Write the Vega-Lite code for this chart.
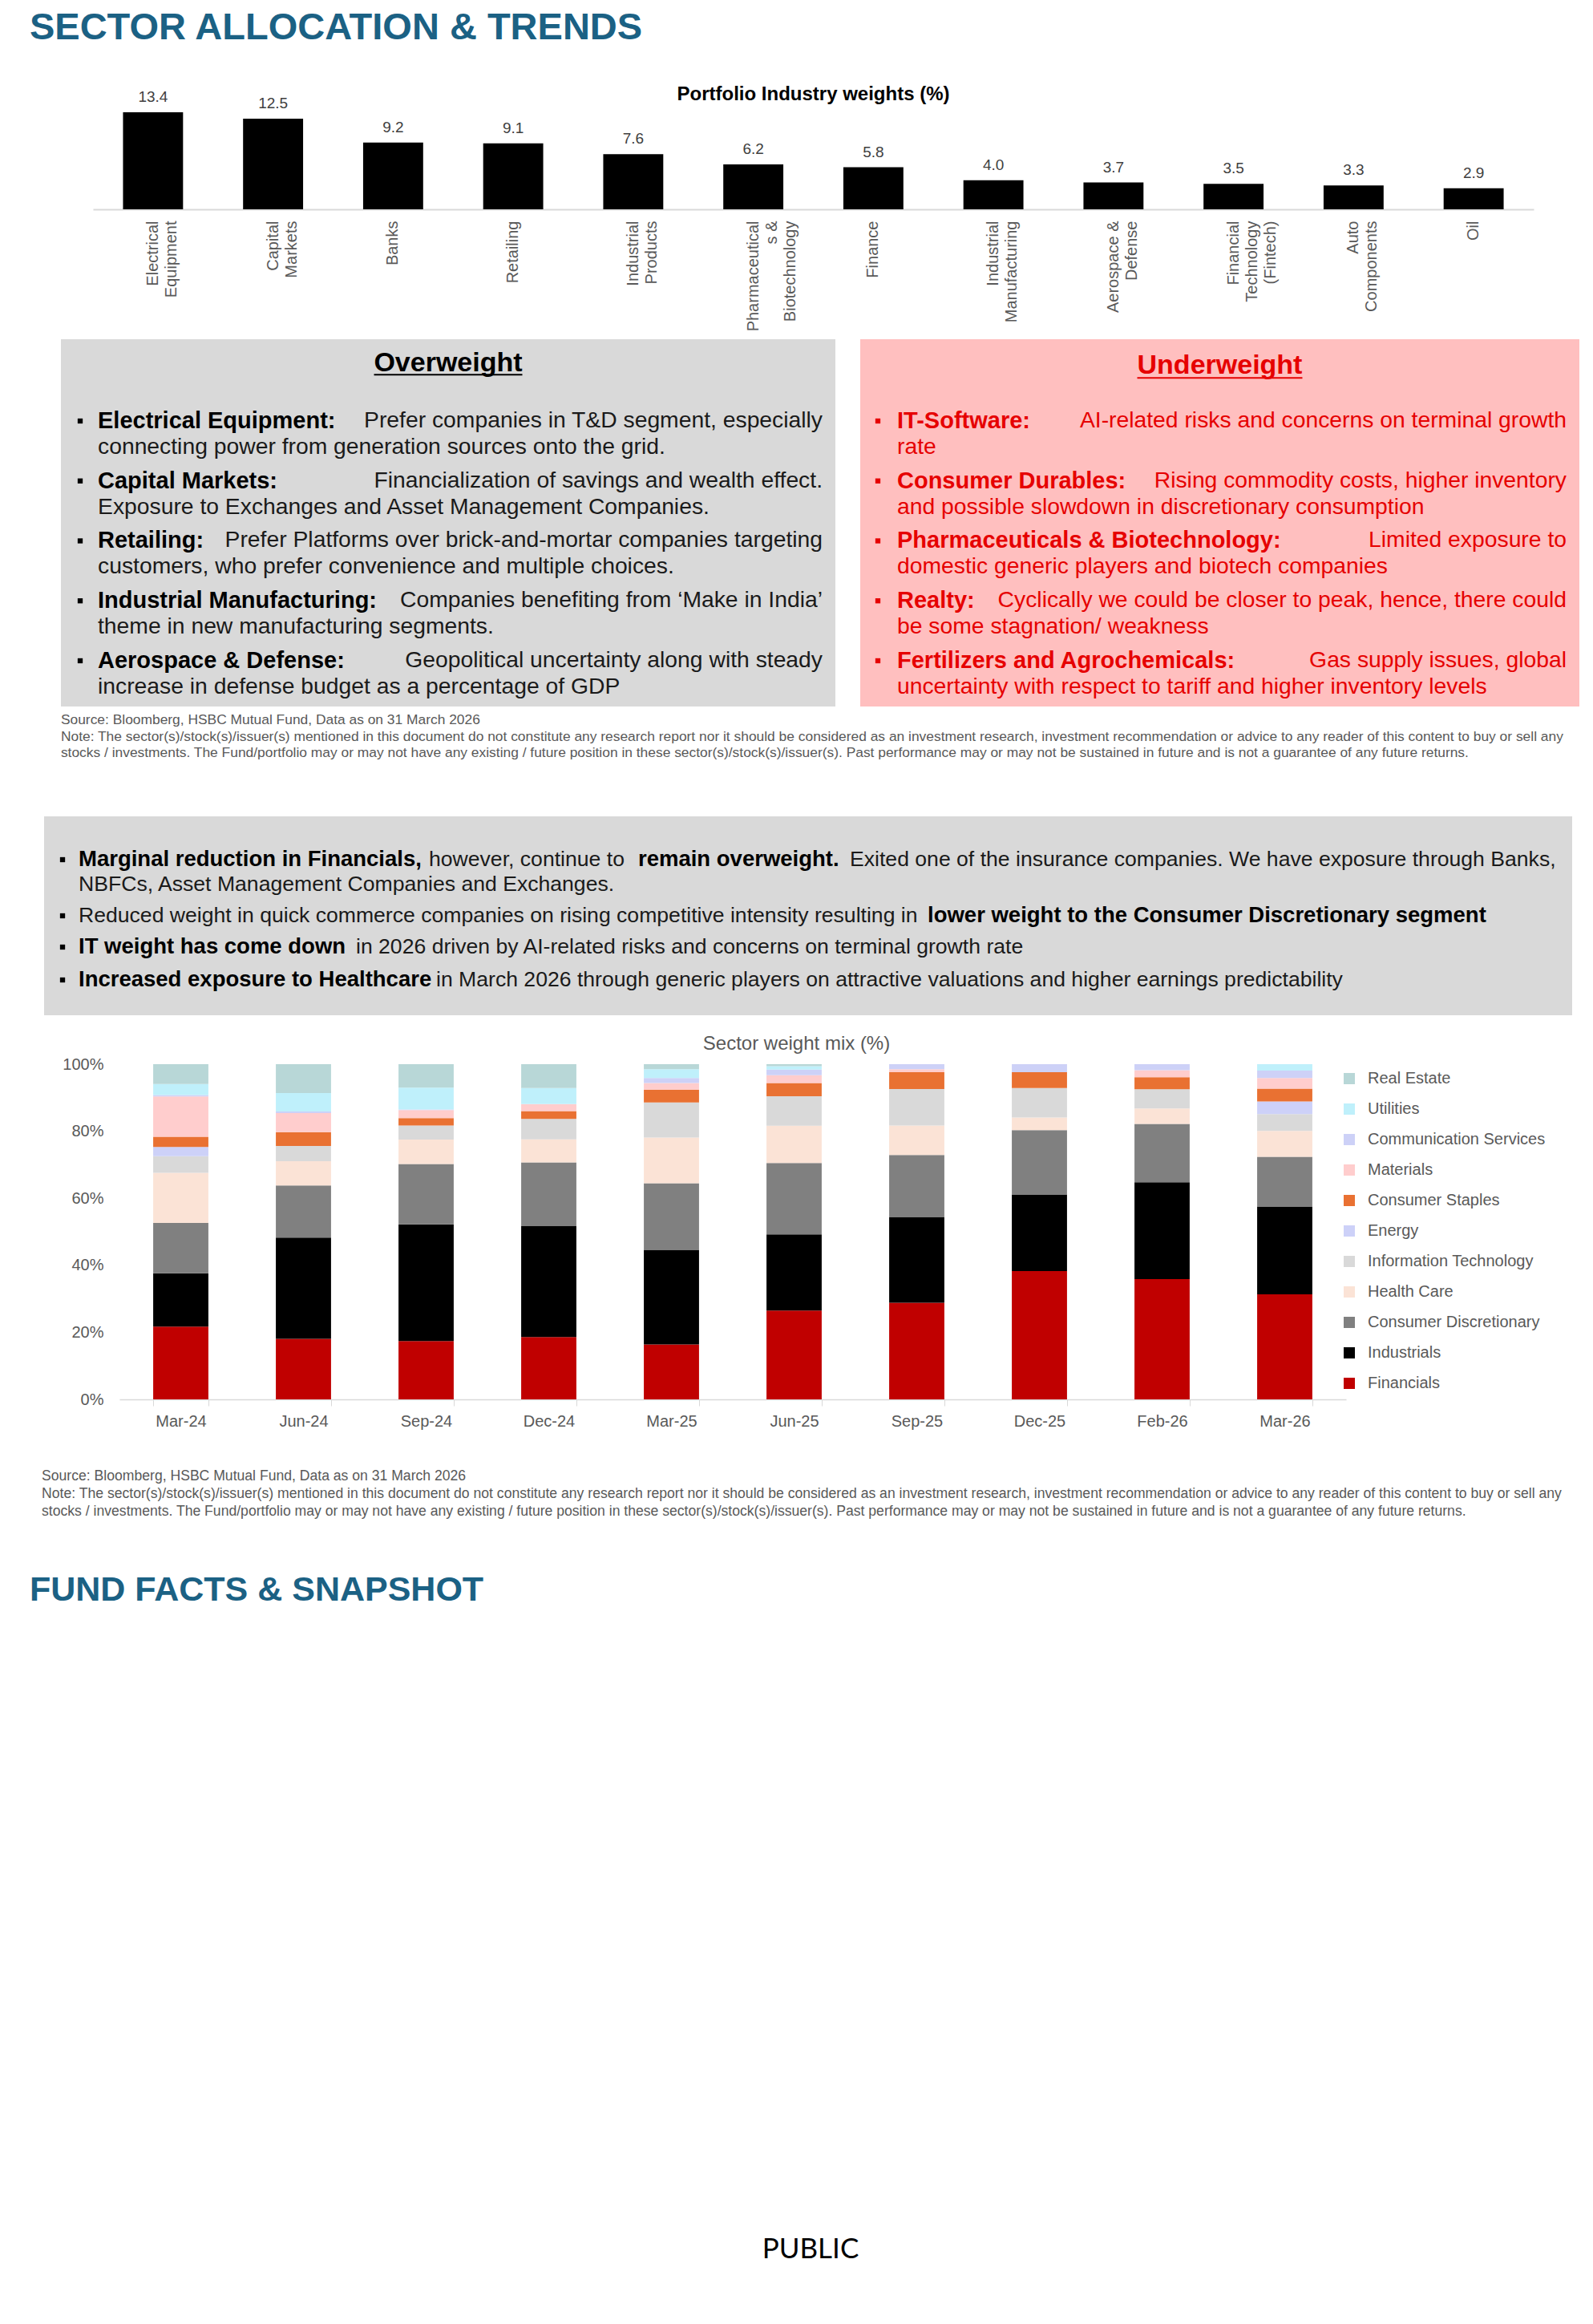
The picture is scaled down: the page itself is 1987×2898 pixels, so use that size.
{
  "$schema": "https://vega.github.io/schema/vega-lite/v6.json",
  "padding": 0,
  "background": "#ffffff",
  "bounds": "flush",
  "spacing": 0,
  "resolve": {"legend": {"color": "independent"}},
  "config": {"view": {"stroke": null}, "font": "Liberation Sans", "concat": {"spacing": 0}},
  "datasets": {
    "industry": [
      {"industry": "Electrical\nEquipment", "weight": 13.4},
      {"industry": "Capital\nMarkets", "weight": 12.5},
      {"industry": "Banks", "weight": 9.2},
      {"industry": "Retailing", "weight": 9.1},
      {"industry": "Industrial\nProducts", "weight": 7.6},
      {"industry": "Pharmaceutical\ns &\nBiotechnology", "weight": 6.2},
      {"industry": "Finance", "weight": 5.8},
      {"industry": "Industrial\nManufacturing", "weight": 4.0},
      {"industry": "Aerospace &\nDefense", "weight": 3.7},
      {"industry": "Financial\nTechnology\n(Fintech)", "weight": 3.5},
      {"industry": "Auto\nComponents", "weight": 3.3},
      {"industry": "Oil", "weight": 2.9}
    ],
    "overweight": [
      {"item": 1, "label": "Electrical Equipment:", "rest": "Prefer companies in T&D segment, especially", "line2": "connecting power from generation sources onto the grid."},
      {"item": 2, "label": "Capital Markets:", "rest": "Financialization of savings and wealth effect.", "line2": "Exposure to Exchanges and Asset Management Companies."},
      {"item": 3, "label": "Retailing:", "rest": "Prefer Platforms over brick-and-mortar companies targeting", "line2": "customers, who prefer convenience and multiple choices."},
      {"item": 4, "label": "Industrial Manufacturing:", "rest": "Companies benefiting from ‘Make in India’", "line2": "theme in new manufacturing segments."},
      {"item": 5, "label": "Aerospace & Defense:", "rest": "Geopolitical uncertainty along with steady", "line2": "increase in defense budget as a percentage of GDP"}
    ],
    "underweight": [
      {"item": 1, "label": "IT-Software:", "rest": "AI-related risks and concerns on terminal growth", "line2": "rate"},
      {"item": 2, "label": "Consumer Durables:", "rest": "Rising commodity costs, higher inventory", "line2": "and possible slowdown in discretionary consumption"},
      {"item": 3, "label": "Pharmaceuticals & Biotechnology:", "rest": "Limited exposure to", "line2": "domestic generic players and biotech companies"},
      {"item": 4, "label": "Realty:", "rest": "Cyclically we could be closer to peak, hence, there could", "line2": "be some stagnation/ weakness"},
      {"item": 5, "label": "Fertilizers and Agrochemicals:", "rest": "Gas supply issues, global", "line2": "uncertainty with respect to tariff and higher inventory levels"}
    ],
    "notes": [
      {"line": 1, "text": "Source: Bloomberg, HSBC Mutual Fund, Data as on 31 March 2026"},
      {"line": 2, "text": "Note: The sector(s)/stock(s)/issuer(s) mentioned in this document do not constitute any research report nor it should be considered as an investment research, investment recommendation or advice to any reader of this content to buy or sell any"},
      {"line": 3, "text": "stocks / investments. The Fund/portfolio may or may not have any existing / future position in these sector(s)/stock(s)/issuer(s). Past performance may or may not be sustained in future and is not a guarantee of any future returns."}
    ],
    "summary": [
      {"line": 1, "item": 1, "lead": "Marginal reduction in Financials,", "cont": "however, continue to", "bold2": "remain overweight.", "rest1": "Exited one of the insurance companies. We have exposure through Banks,"},
      {"line": 2, "item": 1, "plain": "NBFCs, Asset Management Companies and Exchanges."},
      {"line": 3, "item": 2, "plain": "Reduced weight in quick commerce companies on rising competitive intensity resulting in", "tail": "lower weight to the Consumer Discretionary segment"},
      {"line": 4, "item": 3, "lead": "IT weight has come down", "rest4": "in 2026 driven by AI-related risks and concerns on terminal growth rate"},
      {"line": 5, "item": 4, "lead": "Increased exposure to Healthcare", "rest5": "in March 2026 through generic players on attractive valuations and higher earnings predictability"}
    ],
    "sectors": [
      {"sector": "Financials", "rank": 1},
      {"sector": "Industrials", "rank": 2},
      {"sector": "Consumer Discretionary", "rank": 3},
      {"sector": "Health Care", "rank": 4},
      {"sector": "Information Technology", "rank": 5},
      {"sector": "Energy", "rank": 6},
      {"sector": "Consumer Staples", "rank": 7},
      {"sector": "Materials", "rank": 8},
      {"sector": "Communication Services", "rank": 9},
      {"sector": "Utilities", "rank": 10},
      {"sector": "Real Estate", "rank": 11}
    ],
    "mix": [
      {"date": "Mar-24", "sector": "Financials", "weight": 21.7},
      {"date": "Mar-24", "sector": "Industrials", "weight": 15.9},
      {"date": "Mar-24", "sector": "Consumer Discretionary", "weight": 15.0},
      {"date": "Mar-24", "sector": "Health Care", "weight": 14.9},
      {"date": "Mar-24", "sector": "Information Technology", "weight": 5.0},
      {"date": "Mar-24", "sector": "Energy", "weight": 2.7},
      {"date": "Mar-24", "sector": "Consumer Staples", "weight": 3.1},
      {"date": "Mar-24", "sector": "Materials", "weight": 12.0},
      {"date": "Mar-24", "sector": "Communication Services", "weight": 0.4},
      {"date": "Mar-24", "sector": "Utilities", "weight": 3.3},
      {"date": "Mar-24", "sector": "Real Estate", "weight": 5.9},
      {"date": "Jun-24", "sector": "Financials", "weight": 18.1},
      {"date": "Jun-24", "sector": "Industrials", "weight": 30.2},
      {"date": "Jun-24", "sector": "Consumer Discretionary", "weight": 15.6},
      {"date": "Jun-24", "sector": "Health Care", "weight": 7.2},
      {"date": "Jun-24", "sector": "Information Technology", "weight": 4.6},
      {"date": "Jun-24", "sector": "Consumer Staples", "weight": 4.1},
      {"date": "Jun-24", "sector": "Materials", "weight": 5.7},
      {"date": "Jun-24", "sector": "Communication Services", "weight": 0.5},
      {"date": "Jun-24", "sector": "Utilities", "weight": 5.5},
      {"date": "Jun-24", "sector": "Real Estate", "weight": 8.6},
      {"date": "Sep-24", "sector": "Financials", "weight": 17.4},
      {"date": "Sep-24", "sector": "Industrials", "weight": 34.8},
      {"date": "Sep-24", "sector": "Consumer Discretionary", "weight": 18.0},
      {"date": "Sep-24", "sector": "Health Care", "weight": 7.3},
      {"date": "Sep-24", "sector": "Information Technology", "weight": 4.2},
      {"date": "Sep-24", "sector": "Consumer Staples", "weight": 2.2},
      {"date": "Sep-24", "sector": "Materials", "weight": 2.4},
      {"date": "Sep-24", "sector": "Communication Services", "weight": 0.2},
      {"date": "Sep-24", "sector": "Utilities", "weight": 6.5},
      {"date": "Sep-24", "sector": "Real Estate", "weight": 7.0},
      {"date": "Dec-24", "sector": "Financials", "weight": 18.6},
      {"date": "Dec-24", "sector": "Industrials", "weight": 33.1},
      {"date": "Dec-24", "sector": "Consumer Discretionary", "weight": 19.0},
      {"date": "Dec-24", "sector": "Health Care", "weight": 6.9},
      {"date": "Dec-24", "sector": "Information Technology", "weight": 6.1},
      {"date": "Dec-24", "sector": "Consumer Staples", "weight": 2.3},
      {"date": "Dec-24", "sector": "Materials", "weight": 2.1},
      {"date": "Dec-24", "sector": "Utilities", "weight": 4.8},
      {"date": "Dec-24", "sector": "Real Estate", "weight": 7.1},
      {"date": "Mar-25", "sector": "Financials", "weight": 16.4},
      {"date": "Mar-25", "sector": "Industrials", "weight": 28.2},
      {"date": "Mar-25", "sector": "Consumer Discretionary", "weight": 19.9},
      {"date": "Mar-25", "sector": "Health Care", "weight": 13.6},
      {"date": "Mar-25", "sector": "Information Technology", "weight": 10.5},
      {"date": "Mar-25", "sector": "Consumer Staples", "weight": 3.8},
      {"date": "Mar-25", "sector": "Materials", "weight": 2.0},
      {"date": "Mar-25", "sector": "Communication Services", "weight": 1.5},
      {"date": "Mar-25", "sector": "Utilities", "weight": 2.6},
      {"date": "Mar-25", "sector": "Real Estate", "weight": 1.5},
      {"date": "Jun-25", "sector": "Financials", "weight": 26.5},
      {"date": "Jun-25", "sector": "Industrials", "weight": 22.8},
      {"date": "Jun-25", "sector": "Consumer Discretionary", "weight": 21.3},
      {"date": "Jun-25", "sector": "Health Care", "weight": 11.1},
      {"date": "Jun-25", "sector": "Information Technology", "weight": 8.8},
      {"date": "Jun-25", "sector": "Consumer Staples", "weight": 4.0},
      {"date": "Jun-25", "sector": "Materials", "weight": 2.3},
      {"date": "Jun-25", "sector": "Communication Services", "weight": 1.7},
      {"date": "Jun-25", "sector": "Utilities", "weight": 1.0},
      {"date": "Jun-25", "sector": "Real Estate", "weight": 0.6},
      {"date": "Sep-25", "sector": "Financials", "weight": 28.8},
      {"date": "Sep-25", "sector": "Industrials", "weight": 25.6},
      {"date": "Sep-25", "sector": "Consumer Discretionary", "weight": 18.5},
      {"date": "Sep-25", "sector": "Health Care", "weight": 8.8},
      {"date": "Sep-25", "sector": "Information Technology", "weight": 10.9},
      {"date": "Sep-25", "sector": "Consumer Staples", "weight": 5.0},
      {"date": "Sep-25", "sector": "Materials", "weight": 0.9},
      {"date": "Sep-25", "sector": "Communication Services", "weight": 1.5},
      {"date": "Dec-25", "sector": "Financials", "weight": 38.3},
      {"date": "Dec-25", "sector": "Industrials", "weight": 22.8},
      {"date": "Dec-25", "sector": "Consumer Discretionary", "weight": 19.2},
      {"date": "Dec-25", "sector": "Health Care", "weight": 3.8},
      {"date": "Dec-25", "sector": "Information Technology", "weight": 8.8},
      {"date": "Dec-25", "sector": "Consumer Staples", "weight": 4.7},
      {"date": "Dec-25", "sector": "Communication Services", "weight": 2.4},
      {"date": "Feb-26", "sector": "Financials", "weight": 35.9},
      {"date": "Feb-26", "sector": "Industrials", "weight": 28.9},
      {"date": "Feb-26", "sector": "Consumer Discretionary", "weight": 17.4},
      {"date": "Feb-26", "sector": "Health Care", "weight": 4.6},
      {"date": "Feb-26", "sector": "Information Technology", "weight": 5.7},
      {"date": "Feb-26", "sector": "Consumer Staples", "weight": 3.6},
      {"date": "Feb-26", "sector": "Materials", "weight": 2.1},
      {"date": "Feb-26", "sector": "Communication Services", "weight": 1.8},
      {"date": "Mar-26", "sector": "Financials", "weight": 31.3},
      {"date": "Mar-26", "sector": "Industrials", "weight": 26.2},
      {"date": "Mar-26", "sector": "Consumer Discretionary", "weight": 14.8},
      {"date": "Mar-26", "sector": "Health Care", "weight": 7.7},
      {"date": "Mar-26", "sector": "Information Technology", "weight": 5.0},
      {"date": "Mar-26", "sector": "Energy", "weight": 3.8},
      {"date": "Mar-26", "sector": "Consumer Staples", "weight": 3.8},
      {"date": "Mar-26", "sector": "Materials", "weight": 3.2},
      {"date": "Mar-26", "sector": "Communication Services", "weight": 2.2},
      {"date": "Mar-26", "sector": "Utilities", "weight": 1.9}
    ]
  },
  "vconcat": [
    {
      "width": 1987, "height": 64,
      "data": {"values": [{"t": "SECTOR ALLOCATION & TRENDS"}]},
      "mark": {"type": "text", "align": "left", "baseline": "middle", "fontSize": 47, "fontWeight": "bold", "color": "#1b6184", "dy": 3},
      "encoding": {
        "x": {"datum": 0.0186, "type": "quantitative", "scale": {"domain": [0, 1], "nice": false, "zero": false}, "axis": null},
        "text": {"field": "t"}
      }
    },
    {
      "width": 1987, "height": 197,
      "layer": [
        {
          "data": {"name": "industry"},
          "mark": {"type": "bar", "color": "#000000"},
          "encoding": {
            "x": {"field": "industry", "type": "nominal", "sort": null,
              "scale": {"range": [116, 1913], "paddingInner": 0.5, "paddingOuter": 0.25},
              "axis": {"title": null, "labelAngle": -90, "labelAlign": "right", "labelBaseline": "middle", "labelFontSize": 20, "labelColor": "#595959", "labelLineHeight": 23, "labelPadding": 14, "labelLimit": 400, "labelOverlap": false, "ticks": false, "domainColor": "#d9d9d9", "domainWidth": 2, "labelExpr": "split(datum.label, '\\n')"}},
            "y": {"field": "weight", "type": "quantitative", "scale": {"domain": [0, 21.8], "nice": false, "zero": true}, "axis": null}
          }
        },
        {
          "data": {"name": "industry"},
          "mark": {"type": "text", "baseline": "alphabetic", "dy": -13, "fontSize": 19, "color": "#404040"},
          "encoding": {
            "x": {"field": "industry", "type": "nominal", "sort": null},
            "y": {"field": "weight", "type": "quantitative"},
            "text": {"field": "weight", "type": "quantitative", "format": ".1f"}
          }
        },
        {
          "data": {"values": [{"title": "Portfolio Industry weights (%)"}]},
          "mark": {"type": "text", "baseline": "middle", "fontSize": 24, "fontWeight": "bold", "color": "#000000", "dx": 21},
          "encoding": {
            "y": {"datum": 15.8, "type": "quantitative"},
            "text": {"field": "title"}
          }
        }
      ]
    },
    {"width": 1, "height": 162, "data": {"values": []}, "mark": "text"},
    {
      "width": 1987, "height": 458,
      "layer": [
        {
          "data": {"values": [{"box": "Overweight"}]},
          "mark": {"type": "rect", "color": "#d9d9d9"},
          "encoding": {
            "x": {"datum": 0.03825, "type": "quantitative", "scale": {"domain": [0, 1], "nice": false, "zero": false}, "axis": null},
            "x2": {"datum": 0.52441}
          }
        },
        {
          "data": {"values": [{"box": "Underweight"}]},
          "mark": {"type": "rect", "color": "#ffbfbf"},
          "encoding": {
            "x": {"datum": 0.54001, "type": "quantitative"},
            "x2": {"datum": 0.99144}
          }
        },
        {
          "data": {"values": [{"item": 0, "heading": "Overweight"}]},
          "mark": {"type": "text", "align": "center", "baseline": "middle", "fontSize": 34, "fontWeight": "bold", "color": "#000000", "dy": 3},
          "encoding": {
            "x": {"datum": 0.28133, "type": "quantitative"},
            "y": {"field": "item", "type": "quantitative", "scale": {"domain": [-0.3645, 5.763], "nice": false, "zero": false, "reverse": true}, "axis": null},
            "text": {"field": "heading"}
          }
        },
        {
          "data": {"values": [{"item": 0}]},
          "mark": {"type": "rule", "color": "#000000", "strokeWidth": 2, "yOffset": 17},
          "encoding": {
            "x": {"datum": 0.23478, "type": "quantitative"},
            "x2": {"datum": 0.32788},
            "y": {"field": "item", "type": "quantitative"}
          }
        },
        {
          "data": {"values": [{"item": 0, "heading": "Underweight"}]},
          "mark": {"type": "text", "align": "center", "baseline": "middle", "fontSize": 34, "fontWeight": "bold", "color": "#e60000", "dy": 6},
          "encoding": {
            "x": {"datum": 0.76573, "type": "quantitative"},
            "y": {"field": "item", "type": "quantitative"},
            "text": {"field": "heading"}
          }
        },
        {
          "data": {"values": [{"item": 0}]},
          "mark": {"type": "rule", "color": "#e60000", "strokeWidth": 2, "yOffset": 21},
          "encoding": {
            "x": {"datum": 0.71389, "type": "quantitative"},
            "x2": {"datum": 0.81756},
            "y": {"field": "item", "type": "quantitative"}
          }
        },
        {
          "data": {"name": "overweight"},
          "mark": {"type": "square", "size": 40, "color": "#000000", "opacity": 1},
          "encoding": {"x": {"datum": 0.05033, "type": "quantitative"}, "y": {"field": "item", "type": "quantitative"}}
        },
        {
          "data": {"name": "overweight"},
          "mark": {"type": "text", "align": "left", "baseline": "middle", "fontSize": 29, "fontWeight": "bold", "color": "#000000"},
          "encoding": {"x": {"datum": 0.0614, "type": "quantitative"}, "y": {"field": "item", "type": "quantitative"}, "text": {"field": "label"}}
        },
        {
          "data": {"name": "overweight"},
          "mark": {"type": "text", "align": "right", "baseline": "middle", "fontSize": 28.3, "color": "#1a1a1a"},
          "encoding": {"x": {"datum": 0.51636, "type": "quantitative"}, "y": {"field": "item", "type": "quantitative"}, "text": {"field": "rest"}}
        },
        {
          "data": {"name": "overweight"},
          "mark": {"type": "text", "align": "left", "baseline": "middle", "fontSize": 28.3, "color": "#1a1a1a", "dy": 33},
          "encoding": {"x": {"datum": 0.0614, "type": "quantitative"}, "y": {"field": "item", "type": "quantitative"}, "text": {"field": "line2"}}
        },
        {
          "data": {"name": "underweight"},
          "mark": {"type": "square", "size": 40, "color": "#e60000", "opacity": 1},
          "encoding": {"x": {"datum": 0.55108, "type": "quantitative"}, "y": {"field": "item", "type": "quantitative"}}
        },
        {
          "data": {"name": "underweight"},
          "mark": {"type": "text", "align": "left", "baseline": "middle", "fontSize": 29, "fontWeight": "bold", "color": "#e60000"},
          "encoding": {"x": {"datum": 0.56316, "type": "quantitative"}, "y": {"field": "item", "type": "quantitative"}, "text": {"field": "label"}}
        },
        {
          "data": {"name": "underweight"},
          "mark": {"type": "text", "align": "right", "baseline": "middle", "fontSize": 28.3, "color": "#e60000"},
          "encoding": {"x": {"datum": 0.98339, "type": "quantitative"}, "y": {"field": "item", "type": "quantitative"}, "text": {"field": "rest"}}
        },
        {
          "data": {"name": "underweight"},
          "mark": {"type": "text", "align": "left", "baseline": "middle", "fontSize": 28.3, "color": "#e60000", "dy": 33},
          "encoding": {"x": {"datum": 0.56316, "type": "quantitative"}, "y": {"field": "item", "type": "quantitative"}, "text": {"field": "line2"}}
        }
      ]
    },
    {
      "width": 1987, "height": 75,
      "data": {"name": "notes"},
      "mark": {"type": "text", "align": "left", "baseline": "middle", "fontSize": 17.4, "color": "#595959"},
      "encoding": {
        "y": {"field": "line", "type": "ordinal", "scale": {"type": "point", "padding": 0.83}, "axis": null},
        "x": {"datum": 0.0382, "type": "quantitative", "scale": {"domain": [0, 1], "nice": false, "zero": false}, "axis": null},
        "text": {"field": "text"}
      }
    },
    {"width": 1, "height": 62, "data": {"values": []}, "mark": "text"},
    {
      "width": 1987, "height": 248,
      "layer": [
        {
          "data": {"values": [{"box": "Summary"}]},
          "mark": {"type": "rect", "color": "#d9d9d9"},
          "encoding": {
            "x": {"datum": 0.02768, "type": "quantitative", "scale": {"domain": [0, 1], "nice": false, "zero": false}, "axis": null},
            "x2": {"datum": 0.98692}
          }
        },
        {
          "data": {"name": "summary"},
          "transform": [
            {"joinaggregate": [{"op": "min", "field": "line", "as": "first_line"}], "groupby": ["item"]},
            {"filter": "datum.line == datum.first_line"}
          ],
          "mark": {"type": "square", "size": 40, "color": "#000000", "opacity": 1},
          "encoding": {
            "x": {"datum": 0.03926, "type": "quantitative"},
            "y": {"field": "line", "type": "quantitative", "scale": {"domain": [1, 2, 3, 4, 5], "range": [54, 85, 124, 163, 204], "nice": false, "zero": false}, "axis": null}
          }
        },
        {
          "data": {"name": "summary"},
          "transform": [{"filter": "isValid(datum.lead)"}],
          "mark": {"type": "text", "align": "left", "baseline": "middle", "fontSize": 27.5, "fontWeight": "bold", "color": "#000000"},
          "encoding": {"x": {"datum": 0.04932, "type": "quantitative"}, "y": {"field": "line", "type": "quantitative"}, "text": {"field": "lead"}}
        },
        {
          "data": {"name": "summary"},
          "transform": [{"filter": "isValid(datum.plain)"}],
          "mark": {"type": "text", "align": "left", "baseline": "middle", "fontSize": 26.6, "color": "#1a1a1a"},
          "encoding": {"x": {"datum": 0.04932, "type": "quantitative"}, "y": {"field": "line", "type": "quantitative"}, "text": {"field": "plain"}}
        },
        {
          "data": {"name": "summary"},
          "transform": [{"filter": "isValid(datum.cont)"}],
          "mark": {"type": "text", "align": "left", "baseline": "middle", "fontSize": 26.6, "color": "#1a1a1a"},
          "encoding": {"x": {"datum": 0.26925, "type": "quantitative"}, "y": {"field": "line", "type": "quantitative"}, "text": {"field": "cont"}}
        },
        {
          "data": {"name": "summary"},
          "transform": [{"filter": "isValid(datum.bold2)"}],
          "mark": {"type": "text", "align": "left", "baseline": "middle", "fontSize": 27.5, "fontWeight": "bold", "color": "#000000"},
          "encoding": {"x": {"datum": 0.4006, "type": "quantitative"}, "y": {"field": "line", "type": "quantitative"}, "text": {"field": "bold2"}}
        },
        {
          "data": {"name": "summary"},
          "transform": [{"filter": "isValid(datum.rest1)"}],
          "mark": {"type": "text", "align": "left", "baseline": "middle", "fontSize": 26.6, "color": "#1a1a1a"},
          "encoding": {"x": {"datum": 0.53347, "type": "quantitative"}, "y": {"field": "line", "type": "quantitative"}, "text": {"field": "rest1"}}
        },
        {
          "data": {"name": "summary"},
          "transform": [{"filter": "isValid(datum.tail)"}],
          "mark": {"type": "text", "align": "left", "baseline": "middle", "fontSize": 27.5, "fontWeight": "bold", "color": "#000000"},
          "encoding": {"x": {"datum": 0.58229, "type": "quantitative"}, "y": {"field": "line", "type": "quantitative"}, "text": {"field": "tail"}}
        },
        {
          "data": {"name": "summary"},
          "transform": [{"filter": "isValid(datum.rest4)"}],
          "mark": {"type": "text", "align": "left", "baseline": "middle", "fontSize": 26.6, "color": "#1a1a1a"},
          "encoding": {"x": {"datum": 0.22345, "type": "quantitative"}, "y": {"field": "line", "type": "quantitative"}, "text": {"field": "rest4"}}
        },
        {
          "data": {"name": "summary"},
          "transform": [{"filter": "isValid(datum.rest5)"}],
          "mark": {"type": "text", "align": "left", "baseline": "middle", "fontSize": 26.6, "color": "#1a1a1a"},
          "encoding": {"x": {"datum": 0.27378, "type": "quantitative"}, "y": {"field": "line", "type": "quantitative"}, "text": {"field": "rest5"}}
        }
      ]
    },
    {"width": 1, "height": 61, "data": {"values": []}, "mark": "text"},
    {
      "width": 1987, "height": 418,
      "data": {"name": "mix"},
      "transform": [{"lookup": "sector", "from": {"data": {"name": "sectors"}, "key": "sector", "fields": ["rank"]}}],
      "title": {"text": "Sector weight mix (%)", "anchor": "middle", "frame": "bounds", "fontSize": 24, "fontWeight": "normal", "color": "#595959", "offset": 3},
      "mark": {"type": "bar"},
      "encoding": {
        "x": {"field": "date", "type": "ordinal", "sort": null,
          "scale": {"range": [149, 1679], "paddingInner": 0.55, "paddingOuter": 0.275},
          "axis": {"title": null, "labelAngle": 0, "labelFontSize": 20, "labelColor": "#595959", "tickBand": "extent", "tickColor": "#d9d9d9", "tickSize": 8, "domainColor": "#d9d9d9", "domainWidth": 1.5, "labelPadding": 9}},
        "y": {"field": "weight", "type": "quantitative", "stack": "normalize",
          "axis": {"title": null, "format": ".0%", "values": [0, 0.2, 0.4, 0.6, 0.8, 1], "grid": false, "domain": false, "ticks": false, "labelFontSize": 20, "labelColor": "#595959", "labelPadding": 20, "offset": -149}},
        "color": {"field": "sector", "type": "nominal",
          "scale": {
            "domain": ["Real Estate", "Utilities", "Communication Services", "Materials", "Consumer Staples", "Energy", "Information Technology", "Health Care", "Consumer Discretionary", "Industrials", "Financials"],
            "range": ["#b8d7d7", "#bff0fb", "#cdd1f7", "#ffcdcd", "#e97132", "#cdd1f8", "#d9d9d9", "#fbe3d6", "#808080", "#000000", "#c00000"]
          },
          "legend": {"title": null, "orient": "none", "legendX": 1673, "legendY": 8, "direction": "vertical", "symbolType": "square", "symbolSize": 196, "symbolStrokeWidth": 0, "symbolOpacity": 1, "labelFontSize": 20, "labelColor": "#595959", "labelLimit": 400, "labelOffset": 13, "rowPadding": 18, "padding": 0}},
        "order": {"field": "rank", "type": "quantitative"}
      }
    },
    {"width": 1, "height": 78, "data": {"values": []}, "mark": "text"},
    {
      "width": 1987, "height": 79.2,
      "data": {"name": "notes"},
      "mark": {"type": "text", "align": "left", "baseline": "middle", "fontSize": 17.6, "color": "#595959"},
      "encoding": {
        "y": {"field": "line", "type": "ordinal", "scale": {"type": "point", "padding": 0.8}, "axis": null},
        "x": {"datum": 0.0262, "type": "quantitative", "scale": {"domain": [0, 1], "nice": false, "zero": false}, "axis": null},
        "text": {"field": "text"}
      }
    },
    {
      "width": 1987, "height": 153.6,
      "data": {"values": [{"t": "FUND FACTS & SNAPSHOT"}]},
      "mark": {"type": "text", "align": "left", "baseline": "middle", "fontSize": 43, "fontWeight": "bold", "color": "#1b6184", "dy": 3},
      "encoding": {
        "x": {"datum": 0.0186, "type": "quantitative", "scale": {"domain": [0, 1], "nice": false, "zero": false}, "axis": null},
        "text": {"field": "t"}
      }
    },
    {"width": 1, "height": 652.2, "data": {"values": []}, "mark": "text"},
    {
      "width": 1987, "height": 190,
      "data": {"values": [{"t": "PUBLIC"}]},
      "mark": {"type": "text", "align": "center", "baseline": "middle", "fontSize": 35, "font": "Lato", "color": "#000000"},
      "encoding": {
        "x": {"datum": 0.5088, "type": "quantitative", "scale": {"domain": [0, 1], "nice": false, "zero": false}, "axis": null},
        "text": {"field": "t"}
      }
    }
  ]
}
